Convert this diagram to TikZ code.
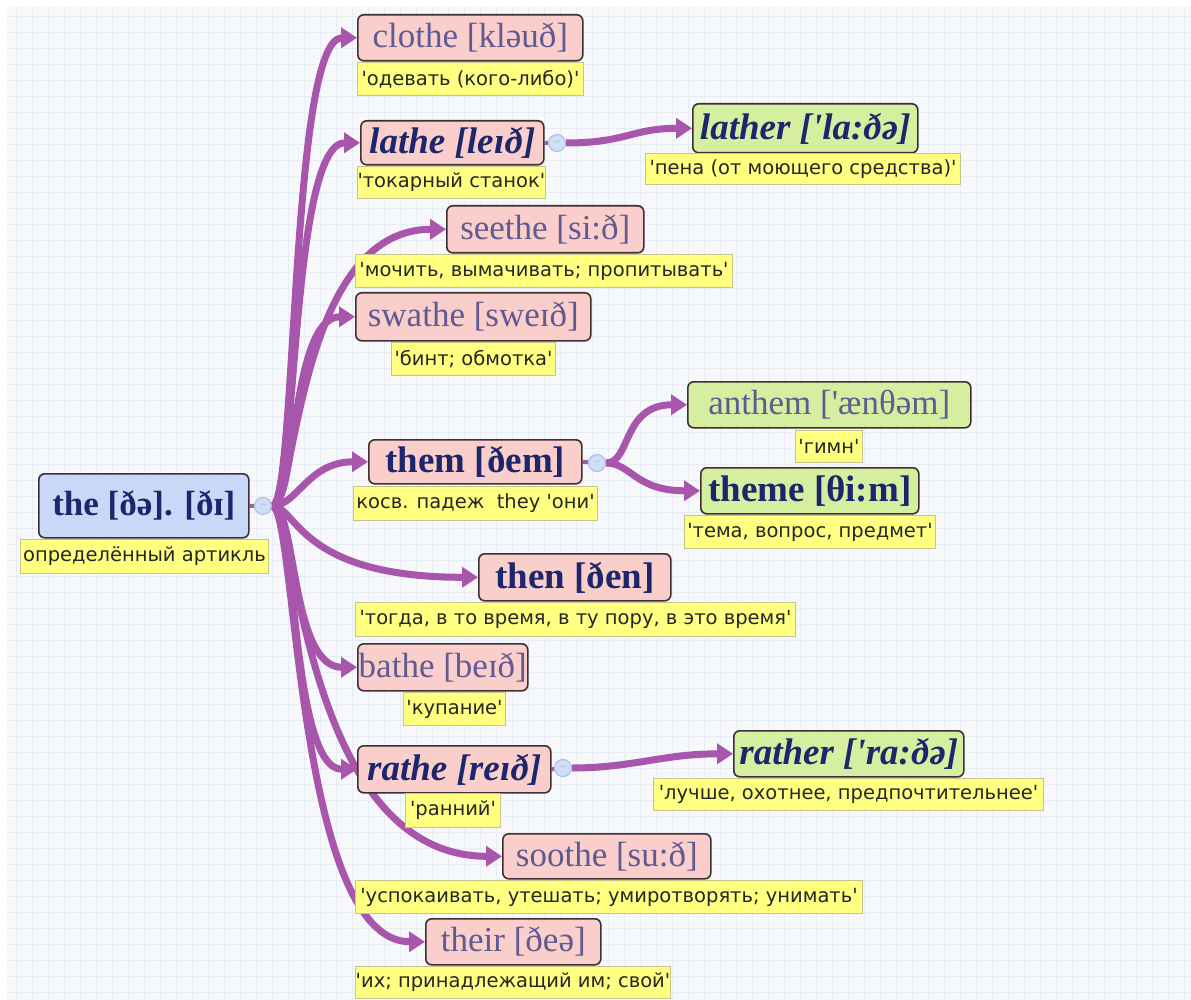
\documentclass[tikz,border=0pt]{standalone}
\usepackage{fontspec}
\usepackage{tikz}
\setmainfont{Liberation Serif}
\newfontfamily\notefont{DejaVu Sans}
\usetikzlibrary{arrows.meta}
\pgfdeclarelayer{paper}
\pgfdeclarelayer{links}
\pgfsetlayers{paper,links,main}
\definecolor{mpaper}{RGB}{246,248,251}
\definecolor{mgrid}{RGB}{232,237,244}
\definecolor{mpink}{RGB}{250,206,202}
\definecolor{mgreen}{RGB}{214,238,160}
\definecolor{mblue}{RGB}{200,216,246}
\definecolor{myellow}{RGB}{255,255,128}
\definecolor{mnoteedge}{RGB}{196,196,140}
\definecolor{medge}{RGB}{62,48,50}
\definecolor{mlink}{RGB}{168,86,172}
\definecolor{mplain}{RGB}{96,90,146}
\definecolor{mnavy}{RGB}{28,38,108}
\definecolor{mdot}{RGB}{208,222,246}
\definecolor{mdotedge}{RGB}{168,188,226}
\newcommand{\q}{\textquotesingle}
\tikzset{
  word/.style = {draw = medge, line width = 1.6, rounded corners = 6, anchor = north west,
    inner sep = 0, font = \fontsize{35}{38}\selectfont, text = mplain},
  pinkword/.style = {word, fill = mpink},
  greenword/.style = {word, fill = mgreen},
  strong/.style = {font = \fontsize{37}{40}\selectfont\bfseries, text = mnavy},
  slanted/.style = {font = \fontsize{37}{40}\selectfont\bfseries\itshape, text = mnavy},
  note/.style = {draw = mnoteedge, line width = 1, fill = myellow, anchor = north west,
    inner sep = 0, font = \notefont\fontsize{19.5}{22}\selectfont, text = black!85},
  toggle/.style = {circle, draw = mdotedge, fill = mdot, minimum size = 17, inner sep = 0,
    line width = 1, text = mdotedge, font = \fontsize{12}{12}\selectfont},
  stub/.style = {draw = mlink!70!gray, line width = 4},
  link/.style = {draw = mlink, line width = 7, -{Triangle[length = 16pt, width = 20pt]}},
}

\begin{document}
\begin{tikzpicture}[x = 1pt, y = -1pt]
    \useasboundingbox (0, 0) rectangle (1191, 1000);
    \begin{pgfonlayer}{paper}
      \fill [white] (0, 0) rectangle (1191, 1000);
      \fill [mpaper] (7, 7) rectangle (1191, 1000);
      \draw [mgrid, step = 16pt] (7, 7) grid (1191, 1000);
    \end{pgfonlayer}

    % root word
    \node [word, strong, font = \fontsize{35}{38}\selectfont\bfseries, fill = mblue, minimum width = 210, minimum height = 64] (root) at (38, 473) {the [ðə]. [ðɪ]};
    \node [note, minimum width = 248, minimum height = 34] (rootnote) at (20, 539) {определённый артикль};
    \node [toggle] (rootdot) at (263, 506) {--};

    % first ring
    \node [pinkword, minimum width = 225, minimum height = 46] (clothe) at (357, 14) {clothe [kləuð]};
    \node [note, minimum width = 226, minimum height = 33] (clothenote) at (357, 62) {'одевать (кого-либо)'};

    \node [pinkword, slanted, minimum width = 183, minimum height = 44] (lathe) at (360, 120) {lathe [leɪð]};
    \node [note, minimum width = 155, minimum height = 32] (lathenote) at (357, 166) {'токарный станок'};
    \node [toggle] (lathedot) at (557, 143) {--};

    \node [pinkword, minimum width = 197, minimum height = 47] (seethe) at (446, 205) {seethe [si:ð]};
    \node [note, minimum width = 377, minimum height = 33] (seethenote) at (355, 254) {'мочить, вымачивать; пропитывать'};

    \node [pinkword, minimum width = 235, minimum height = 48] (swathe) at (355, 292) {swathe [sweɪð]};
    \node [note, minimum width = 164, minimum height = 33] (swathenote) at (391, 342) {'бинт; обмотка'};

    \node [pinkword, strong, minimum width = 213, minimum height = 44] (them) at (368, 439) {them [ðem]};
    \node [note, minimum width = 244, minimum height = 34] (themnote) at (353, 486) {косв. падеж\ \ they 'они'};
    \node [toggle] (themdot) at (597, 463) {--};

    \node [pinkword, strong, minimum width = 192, minimum height = 47] (then) at (478, 553) {then [ðen]};
    \node [note, minimum width = 440, minimum height = 34] (thennote) at (355, 602) {'тогда, в то время, в ту пору, в это время'};

    \node [pinkword, minimum width = 170, minimum height = 47] (bathe) at (357, 643) {bathe [beɪð]};
    \node [note, minimum width = 102, minimum height = 33] (bathenote) at (403, 692) {'купание'};

    \node [pinkword, slanted, minimum width = 193, minimum height = 47] (rathe) at (357, 745) {rathe [reɪð]};
    \node [note, minimum width = 95, minimum height = 34] (rathenote) at (405, 793) {'ранний'};
    \node [toggle] (rathedot) at (563, 768) {--};

    \node [pinkword, minimum width = 208, minimum height = 45] (soothe) at (502, 833) {soothe [su:ð]};
    \node [note, minimum width = 507, minimum height = 33] (soothenote) at (355, 880) {'успокаивать, утешать; умиротворять; унимать'};

    \node [pinkword, minimum width = 175, minimum height = 46] (their) at (425, 918) {their [ðeə]};
    \node [note, minimum width = 315, minimum height = 32] (theirnote) at (355, 966) {'их; принадлежащий им; свой'};

    % second ring
    \node [greenword, slanted, minimum width = 225, minimum height = 49] (lather) at (692, 103) {lather [\q lɑ:ðə]};
    \node [note, minimum width = 315, minimum height = 31] (lathernote) at (645, 153) {'пена (от моющего средства)'};

    \node [greenword, minimum width = 283, minimum height = 46] (anthem) at (687, 381) {anthem [\q ænθəm]};
    \node [note, minimum width = 67, minimum height = 32] (anthemnote) at (795, 430) {'гимн'};

    \node [greenword, strong, minimum width = 218, minimum height = 46] (theme) at (700, 467) {theme [θi:m]};
    \node [note, minimum width = 251, minimum height = 33] (themenote) at (684, 515) {'тема, вопрос, предмет'};

    \node [greenword, slanted, minimum width = 230, minimum height = 46] (rather) at (733, 730) {rather [\q rɑ:ðə]};
    \node [note, minimum width = 390, minimum height = 32] (rathernote) at (653, 778) {'лучше, охотнее, предпочтительнее'};

    \begin{pgfonlayer}{links}
      \draw [stub] (root.east) -- (rootdot);
      \draw [stub] (lathe.east) -- (lathedot);
      \draw [stub] (them.east) -- (themdot);
      \draw [stub] (rathe.east) -- (rathedot);

      \draw [link] (rootdot.east) .. controls +(25, 0) and +(-67, 0) .. (clothe.west);
      \draw [link] (rootdot.east) .. controls +(25, 0) and +(-70, 0) .. (lathe.west);
      \draw [link] (rootdot.east) .. controls +(25, 0) and +(-150, 0) .. (seethe.west);
      \draw [link] (rootdot.east) .. controls +(25, 0) and +(-65, 0) .. (swathe.west);
      \draw [link] (rootdot.east) .. controls +(25, 0) and +(-60, 0) .. (them.west);
      \draw [link] (rootdot.east) .. controls +(25, 0) and +(-180, 0) .. (then.west);
      \draw [link] (rootdot.east) .. controls +(25, 0) and +(-67, 0) .. (bathe.west);
      \draw [link] (rootdot.east) .. controls +(25, 0) and +(-67, 0) .. (rathe.west);
      \draw [link] (rootdot.east) .. controls +(25, 0) and +(-200, 0) .. (soothe.west);
      \draw [link] (rootdot.east) .. controls +(25, 0) and +(-130, 0) .. (their.west);

      \draw [link] (lathedot.east) .. controls +(60, 0) and +(-60, 0) .. (lather.west);
      \draw [link] (themdot.east) .. controls +(25, 0) and +(-65, 0) .. (anthem.west);
      \draw [link] (themdot.east) .. controls +(25, 0) and +(-65, 0) .. (theme.west);
      \draw [link] (rathedot.east) .. controls +(60, 0) and +(-70, 0) .. (rather.west);
    \end{pgfonlayer}
  \end{tikzpicture}
\end{document}
